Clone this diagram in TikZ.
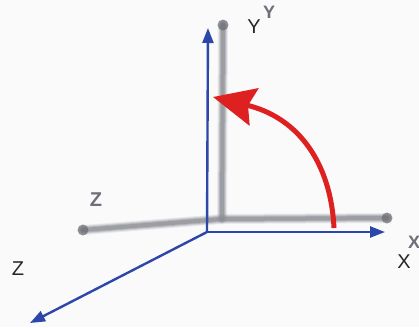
\documentclass[tikz,border=0pt]{standalone}
\usepackage{fontspec}
\setmainfont{Liberation Sans}
\usetikzlibrary{arrows.meta}
\definecolor{axblue}{RGB}{45,70,170}
\definecolor{arred}{RGB}{222,32,32}
\definecolor{shgray}{RGB}{140,142,150}
\definecolor{shtext}{RGB}{110,112,120}
\definecolor{bg}{RGB}{250,250,250}
\tikzset{
  axis/.style={draw=axblue, line width=2.4pt, -{Triangle[length=15pt,width=11pt]}},
  shadowline/.style={draw=shgray, line cap=round},
  shadowdot/.style={circle, fill=shgray!75!black, inner sep=0pt, minimum size=11pt, opacity=0.7},
  lab/.style={font=\fontsize{20}{20}\selectfont, text=black!85, inner sep=0pt},
  shlab/.style={text=shtext, inner sep=0pt, font=\fontsize{18}{18}\selectfont\bfseries},
}
\begin{document}
\begin{tikzpicture}[x=1pt,y=-1pt]
\fill[bg] (0,0) rectangle (419,327);
\useasboundingbox (0,0) rectangle (419,327);
% shadow (rotated) axes
\coordinate (sO) at (222,219);
\coordinate (sY) at (223,25);
\coordinate (sX) at (387,218);
\coordinate (sZ) at (83,230);
\foreach \w/\o in {10/0.15,8/0.25,6/0.4,4/0.6}{
  \draw[shadowline, line width=\w pt, opacity=\o] (sZ) -- (sO) -- (sX);
  \draw[shadowline, line width=\w pt, opacity=\o] (sO) -- (sY);
}
\node[shadowdot] (dY) at (sY) {};
\node[shadowdot] (dX) at (sX) {};
\node[shadowdot] (dZ) at (sZ) {};
\node[shlab, font=\fontsize{20}{20}\selectfont\bfseries] (gZ) at (96,200) {Z};
\node[shlab] (gY) at (269,12) {Y};
\node[shlab] (gX) at (414,242) {X};
% main axes
\coordinate (O) at (207,232);
\coordinate (Y) at (208,28);
\coordinate (X) at (385,232);
\coordinate (Z) at (30,323);
\draw[axis] (O) -- (Y);
\draw[axis] (O) -- (X);
\draw[axis] (O) -- (Z);
\node[lab] (lY) at (254,27) {Y};
\node[lab] (lX) at (404,262) {X};
\node[lab] (lZ) at (18,269) {Z};
% red rotation arrow
\coordinate (rs) at (334,228);
\coordinate (rt) at (213,97);
\draw[arred, line width=5pt, -{Stealth[length=42pt,width=38pt,inset=6pt]}]
  (rs) .. controls (331,165) and (300,118) .. (rt);
\end{tikzpicture}
\end{document}
